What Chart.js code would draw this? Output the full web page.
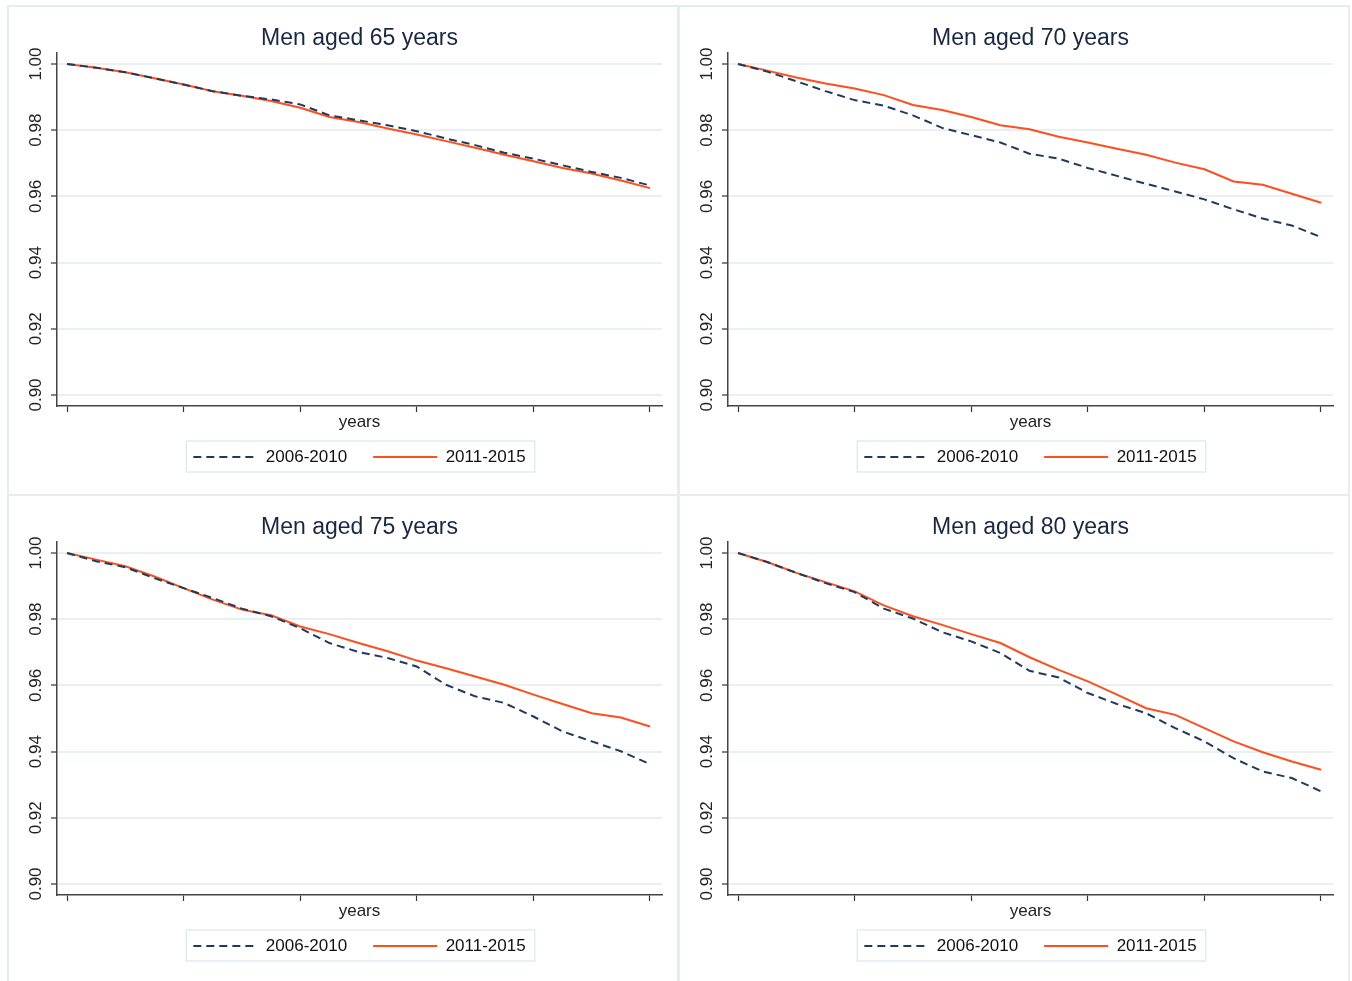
<!DOCTYPE html>
<html lang="en">
<head>
    <meta charset="UTF-8">
    <title>Survival, men aged 65-80 years</title>
    <script src="https://cdn.jsdelivr.net/npm/chart.js"></script>
    <style>
        body { margin: 0; background: #fff; }
        .panel {
            position: absolute;
            width: 670px;
            height: 489px;
            outline: 2px solid #e6edf2;
            outline-offset: -1px;
        }
        .panel canvas { position: absolute; left: 0; top: 0; }
    </style>
</head>
<body>
    <div class="panel" style="left:8px;top:6px"><canvas id="c65" width="670" height="489"></canvas></div>
    <div class="panel" style="left:679px;top:6px"><canvas id="c70" width="670" height="489"></canvas></div>
    <div class="panel" style="left:8px;top:495px"><canvas id="c75" width="670" height="489"></canvas></div>
    <div class="panel" style="left:679px;top:495px"><canvas id="c80" width="670" height="489"></canvas></div>

    <script>
        // follow-up time (years), read every quarter year
        const years = [0, 0.25, 0.5, 0.75, 1, 1.25, 1.5, 1.75, 2, 2.25, 2.5,
                       2.75, 3, 3.25, 3.5, 3.75, 4, 4.25, 4.5, 4.75, 5];
        const xTicks = [0, 1, 2, 3, 4, 5];
        const yTicks = [0.90, 0.92, 0.94, 0.96, 0.98, 1.00];
        const periods = ['2006-2010', '2011-2015'];

        const men65_early = [1.000, 0.9989, 0.9975, 0.9957, 0.9938, 0.9918, 0.9904, 0.9893, 0.9878, 0.9845, 0.9830,
                             0.9815, 0.9797, 0.9775, 0.9755, 0.9732, 0.9714, 0.9694, 0.9674, 0.9656, 0.9633];
        const men65_late  = [1.000, 0.9989, 0.9975, 0.9957, 0.9938, 0.9918, 0.9904, 0.9888, 0.9868, 0.9840, 0.9825,
                             0.9805, 0.9787, 0.9767, 0.9747, 0.9726, 0.9706, 0.9686, 0.9669, 0.9648, 0.9625];

        const men70_early = [1.000, 0.9977, 0.9948, 0.9918, 0.9891, 0.9874, 0.9845, 0.9807, 0.9785, 0.9763, 0.9729,
                             0.9714, 0.9686, 0.9662, 0.9638, 0.9615, 0.9591, 0.9561, 0.9533, 0.9512, 0.9477];
        const men70_late  = [1.000, 0.9980, 0.9959, 0.9941, 0.9926, 0.9906, 0.9876, 0.9861, 0.9840, 0.9815, 0.9803,
                             0.9780, 0.9763, 0.9744, 0.9726, 0.9702, 0.9682, 0.9645, 0.9635, 0.9608, 0.9581];

        const men75_early = [1.000, 0.9975, 0.9957, 0.9924, 0.9894, 0.9864, 0.9832, 0.9809, 0.9773, 0.9728, 0.9701,
                             0.9683, 0.9657, 0.9602, 0.9567, 0.9547, 0.9506, 0.9461, 0.9431, 0.9401, 0.9362];
        const men75_late  = [1.000, 0.9980, 0.9960, 0.9929, 0.9894, 0.9859, 0.9829, 0.9812, 0.9778, 0.9755, 0.9728,
                             0.9703, 0.9675, 0.9652, 0.9627, 0.9602, 0.9572, 0.9544, 0.9516, 0.9503, 0.9476];

        const men80_early = [1.000, 0.9973, 0.9940, 0.9909, 0.9882, 0.9832, 0.9802, 0.9761, 0.9733, 0.9698, 0.9644,
                             0.9624, 0.9577, 0.9544, 0.9516, 0.9471, 0.9431, 0.9380, 0.9340, 0.9320, 0.9280];
        const men80_late  = [1.000, 0.9973, 0.9940, 0.9912, 0.9884, 0.9842, 0.9809, 0.9783, 0.9755, 0.9728, 0.9685,
                             0.9647, 0.9612, 0.9572, 0.9531, 0.9511, 0.9471, 0.9431, 0.9398, 0.9370, 0.9345];

        const FONT = "Arial, 'Liberation Sans', Helvetica, sans-serif";
        const NAVY = '#1f3a5c';
        const RED = '#ff4f1f';

        // Stata-like box drawn round the legend items
        const legendFrame = {
            id: 'legendFrame',
            afterDraw(chart) {
                const boxes = chart.legend.legendHitBoxes;
                if (!boxes || !boxes.length) return;
                const first = boxes[0], last = boxes[boxes.length - 1];
                const ctx = chart.ctx;
                ctx.save();
                ctx.strokeStyle = '#e3eaef';
                ctx.lineWidth = 1.5;
                ctx.strokeRect(first.left - 7, first.top - 7.5,
                               last.left + last.width + 9 - (first.left - 7), first.height + 14);
                ctx.restore();
            }
        };

        // legend samples should copy the dash and width of the lines
        function legendItems(chart) {
            const items = Chart.defaults.plugins.legend.labels.generateLabels(chart);
            items.forEach(item => {
                const ds = chart.data.datasets[item.datasetIndex];
                item.lineDash = ds.borderDash || [];
                item.lineWidth = ds.borderWidth;
                item.strokeStyle = ds.borderColor;
            });
            return items;
        }

        function toPoints(vals) {
            return years.map((t, i) => ({ x: t, y: vals[i] }));
        }

        function makeChart(id, title, early, late) {
            new Chart(document.getElementById(id), {
                type: 'line',
                data: {
                    datasets: [
                        {
                            label: periods[0],
                            data: toPoints(early),
                            borderColor: NAVY,
                            borderWidth: 2,
                            borderDash: [8, 5],
                            pointRadius: 0,
                            tension: 0
                        },
                        {
                            label: periods[1],
                            data: toPoints(late),
                            borderColor: RED,
                            borderWidth: 2,
                            pointRadius: 0,
                            tension: 0
                        }
                    ]
                },
                options: {
                    responsive: false,
                    animation: false,
                    layout: { padding: { left: 0, right: 16, top: 0, bottom: 19.5 } },
                    scales: {
                        x: {
                            type: 'linear',
                            min: -0.0858,
                            max: 5.103,
                            afterBuildTicks: s => { s.ticks = xTicks.map(v => ({ value: v })); },
                            afterFit: s => { s.height = 16.5; },
                            ticks: { display: true, callback: () => '' },
                            grid: { drawOnChartArea: false, drawTicks: true, tickLength: 6, tickColor: '#333', tickWidth: 1.2 },
                            border: { display: true, color: '#444', width: 1.5 },
                            title: {
                                display: true,
                                text: 'years',
                                color: '#222',
                                font: { family: FONT, size: 17 },
                                padding: { top: 0, bottom: -9.7 }
                            }
                        },
                        y: {
                            min: 0.89667,
                            max: 1.00333,
                            afterBuildTicks: s => { s.ticks = yTicks.map(v => ({ value: v })); },
                            afterFit: s => { s.width = 49; },
                            ticks: {
                                autoSkip: false,
                                minRotation: 90,
                                maxRotation: 90,
                                crossAlign: 'center',
                                padding: -1.5,
                                color: '#222',
                                font: { family: FONT, size: 17 },
                                callback: v => v.toFixed(2)
                            },
                            grid: { color: '#e9f0f4', lineWidth: 2, drawTicks: true, tickLength: 6, tickColor: '#333', tickWidth: 1.2 },
                            border: { display: true, color: '#444', width: 1.5 }
                        }
                    },
                    plugins: {
                        title: {
                            display: true,
                            fullSize: false,
                            text: title,
                            color: '#1a2744',
                            font: { family: FONT, size: 23, weight: 'normal' },
                            padding: { top: 19.2, bottom: 0.2 }
                        },
                        legend: {
                            position: 'bottom',
                            fullSize: false,
                            labels: {
                                usePointStyle: true,
                                pointStyle: 'line',
                                pointStyleWidth: 64,
                                padding: 26,
                                color: '#111',
                                font: { family: FONT, size: 17 },
                                generateLabels: legendItems
                            }
                        },
                        tooltip: { enabled: false }
                    }
                },
                plugins: [legendFrame]
            });
        }

        makeChart('c65', 'Men aged 65 years', men65_early, men65_late);
        makeChart('c70', 'Men aged 70 years', men70_early, men70_late);
        makeChart('c75', 'Men aged 75 years', men75_early, men75_late);
        makeChart('c80', 'Men aged 80 years', men80_early, men80_late);
    </script>
</body>
</html>
